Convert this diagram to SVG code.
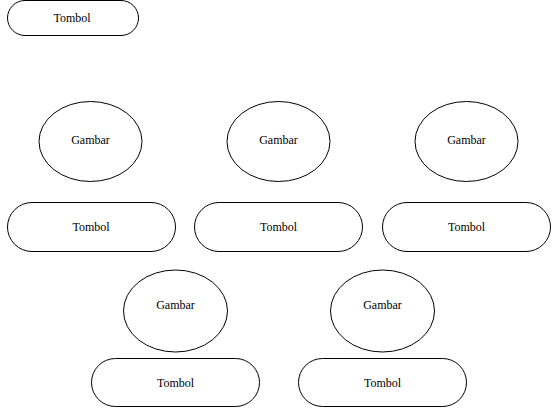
<svg xmlns="http://www.w3.org/2000/svg" width="552" height="408" viewBox="0 0 552 408">
<style>
.s{fill:#fff;stroke:#000;stroke-width:1}
.t{font-family:"Liberation Serif","Times New Roman",serif;font-size:12px;fill:#000;text-anchor:middle;dominant-baseline:central}
</style>
<rect width="552" height="408" fill="#fff"/>
<g id="tombol0"><rect class="s" x="7.5" y="0.5" width="131" height="35" rx="17.5"/><text class="t" x="72" y="18">Tombol</text></g>
<g id="gambar1"><ellipse class="s" cx="90.5" cy="141.5" rx="51.5" ry="40"/><text class="t" x="90.5" y="140">Gambar</text></g>
<g id="gambar2"><ellipse class="s" cx="278.5" cy="141.5" rx="51.5" ry="40"/><text class="t" x="278.5" y="140">Gambar</text></g>
<g id="gambar3"><ellipse class="s" cx="466.5" cy="141.5" rx="51.5" ry="40"/><text class="t" x="466.5" y="140">Gambar</text></g>
<g id="tombol1"><rect class="s" x="7.5" y="202.5" width="168" height="49" rx="24.5"/><text class="t" x="91" y="227">Tombol</text></g>
<g id="tombol2"><rect class="s" x="194.5" y="202.5" width="168" height="49" rx="24.5"/><text class="t" x="278.5" y="227">Tombol</text></g>
<g id="tombol3"><rect class="s" x="382.5" y="202.5" width="168" height="49" rx="24.5"/><text class="t" x="466.5" y="227">Tombol</text></g>
<g id="gambar4"><ellipse class="s" cx="175.5" cy="311" rx="52" ry="41"/><text class="t" x="175.5" y="305">Gambar</text></g>
<g id="gambar5"><ellipse class="s" cx="382.5" cy="311" rx="52" ry="41"/><text class="t" x="382.5" y="305">Gambar</text></g>
<g id="tombol4"><rect class="s" x="91.5" y="358.5" width="168" height="48" rx="24"/><text class="t" x="175.5" y="383">Tombol</text></g>
<g id="tombol5"><rect class="s" x="298.5" y="358.5" width="168" height="48" rx="24"/><text class="t" x="382.5" y="383">Tombol</text></g>
<g id="connectors"/>
</svg>
